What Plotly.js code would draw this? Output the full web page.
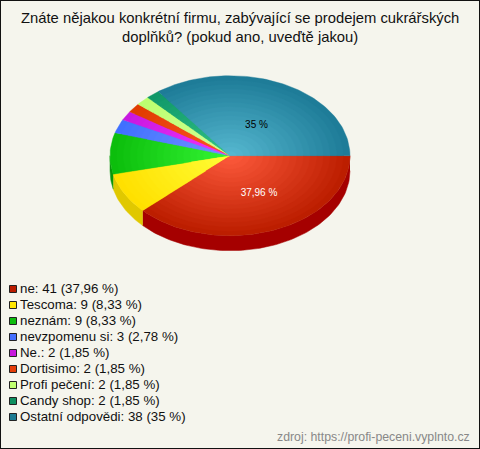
<!DOCTYPE html>
<html><head><meta charset="utf-8">
<script src="https://cdn.plot.ly/plotly-3.0.1.min.js"></script>
<style>html,body{margin:0;padding:0;background:#F5F5ED;overflow:hidden}</style>
</head><body><div id="chart" style="width:480px;height:449px"></div>
<script>
const categories = ['ne','Tescoma','neznám','nevzpomenu si','Ne.','Dortisimo','Profi pečení','Candy shop','Ostatní odpovědi'];
const counts = [41,9,9,3,2,2,2,2,38];
const percentLabels = ['37,96 %','8,33 %','8,33 %','2,78 %','1,85 %','1,85 %','1,85 %','1,85 %','35 %'];
const innerColors = ['#FF5C3E','#FFFF38','#36F836','#7696FF','#F436FF','#FF5626','#D4FF98','#34C488','#58BAD2'];
const rimColors = ['#BC1E00','#FFE000','#0CBE0C','#4070FF','#C818E0','#E03C00','#BCFF70','#109868','#1E7C98'];
const sideColors = ['#A50000','#E0C800','#0A960A'];
const swatchColors = ['#BB1C00','#FFE600','#0DBD0D','#4570FF','#C718DC','#E53D08','#C0FF70','#0D9060','#1B7B92'];
const titleText = 'Znáte nějakou konkrétní firmu, zabývající se prodejem cukrářských<br>doplňků? (pokud ano, uveďtě jakou)';
const sourceText = 'zdroj: https://profi-peceni.vyplnto.cz';

const W=480,H=449,CX=230,CY=155.7,RX=120,RY=80,DEPTH=15,RINGS=18;
const total=counts.reduce((a,b)=>a+b,0);
function hex(c){return [1,3,5].map(i=>parseInt(c.substr(i,2),16));}
function mix(a,b,t){const A=hex(a),B=hex(b);return 'rgb('+A.map((v,i)=>Math.round(v+(B[i]-v)*t)).join(',')+')';}
function arc(a0,a1,k,dy){const n=Math.max(2,Math.ceil((a1-a0)*40)),xs=[],ys=[];
  for(let i=0;i<=n;i++){const a=a0+(a1-a0)*i/n;xs.push(CX+RX*k*Math.cos(a));ys.push(CY+dy+RY*k*Math.sin(a));}
  return [xs,ys];}
const base={type:'scatter',mode:'lines',fill:'toself',hoverinfo:'skip',showlegend:false};
const traces=[];
const ang=[];let acc=0;
counts.forEach(v=>{const s=acc/total*2*Math.PI;acc+=v;ang.push([s,acc/total*2*Math.PI]);});
ang.forEach((A,i)=>{const a0=A[0],a1=Math.min(A[1],Math.PI);if(a0>=Math.PI)return;
  const [xs,ys]=arc(a0,a1,1,0),[xb,yb]=arc(a0,a1,1,DEPTH);
  traces.push({...base,x:xs.concat(xb.reverse()),y:ys.concat(yb.reverse()),fillcolor:sideColors[i],line:{width:0.5,color:sideColors[i]}});
});
for(let r=RINGS;r>=1;r--){const k=r/RINGS;
  ang.forEach((A,i)=>{const [xs,ys]=arc(A[0],A[1],k,0);
    const col=mix(innerColors[i],rimColors[i],k);
    traces.push({...base,x:[CX].concat(xs,[CX]),y:[CY].concat(ys,[CY]),fillcolor:col,line:{width:0.4,color:col}});
  });
}
const labelIdx=[0,8];
const labelX=[259,256.5],labelY=[193,125],labelCol=['#ffffff','#000000'];
traces.push({type:'scatter',mode:'text',x:labelX,y:labelY,text:labelIdx.map(i=>percentLabels[i]),
  textposition:'middle center',textfont:{family:'Liberation Sans, Arial, sans-serif',size:10,color:labelCol},hoverinfo:'skip',showlegend:false});
const swatchY=categories.map((c,i)=>289+i*16);
const legY=categories.map((c,i)=>289.8+i*16);
traces.push({type:'scatter',mode:'markers',x:categories.map(()=>13),y:swatchY,
  marker:{symbol:'square',size:7,color:swatchColors,line:{color:'#222',width:1}},hoverinfo:'skip',showlegend:false});
traces.push({type:'scatter',mode:'text',x:categories.map(()=>20),y:legY,
  text:categories.map((c,i)=>c+': '+counts[i]+' ('+percentLabels[i]+')'),textposition:'middle right',
  textfont:{family:'Liberation Sans, Arial, sans-serif',size:13.3,color:'#111'},hoverinfo:'skip',showlegend:false});
const axis={visible:false,fixedrange:true};
const layout={width:W,height:H,margin:{l:0,r:0,t:0,b:0},paper_bgcolor:'#F5F5ED',plot_bgcolor:'#F5F5ED',showlegend:false,
  xaxis:{...axis,range:[0,W]},yaxis:{...axis,range:[H,0]},
  shapes:[{type:'rect',xref:'paper',yref:'paper',x0:0,x1:1,y0:0,y1:1,line:{color:'#111',width:2}}],
  annotations:[
   {xref:'x',yref:'y',x:239.5,y:27.5,text:titleText,showarrow:false,xanchor:'center',yanchor:'middle',align:'center',
    font:{family:'Liberation Sans, Arial, sans-serif',size:14.8,color:'#111'}},
   {xref:'x',yref:'y',x:470,y:437,text:sourceText,showarrow:false,xanchor:'right',yanchor:'middle',xshift:2,
    font:{family:'Liberation Sans, Arial, sans-serif',size:12.3,color:'#888'}}
  ]};
Plotly.newPlot('chart',traces,layout,{displayModeBar:false,staticPlot:true});
</script></body></html>
